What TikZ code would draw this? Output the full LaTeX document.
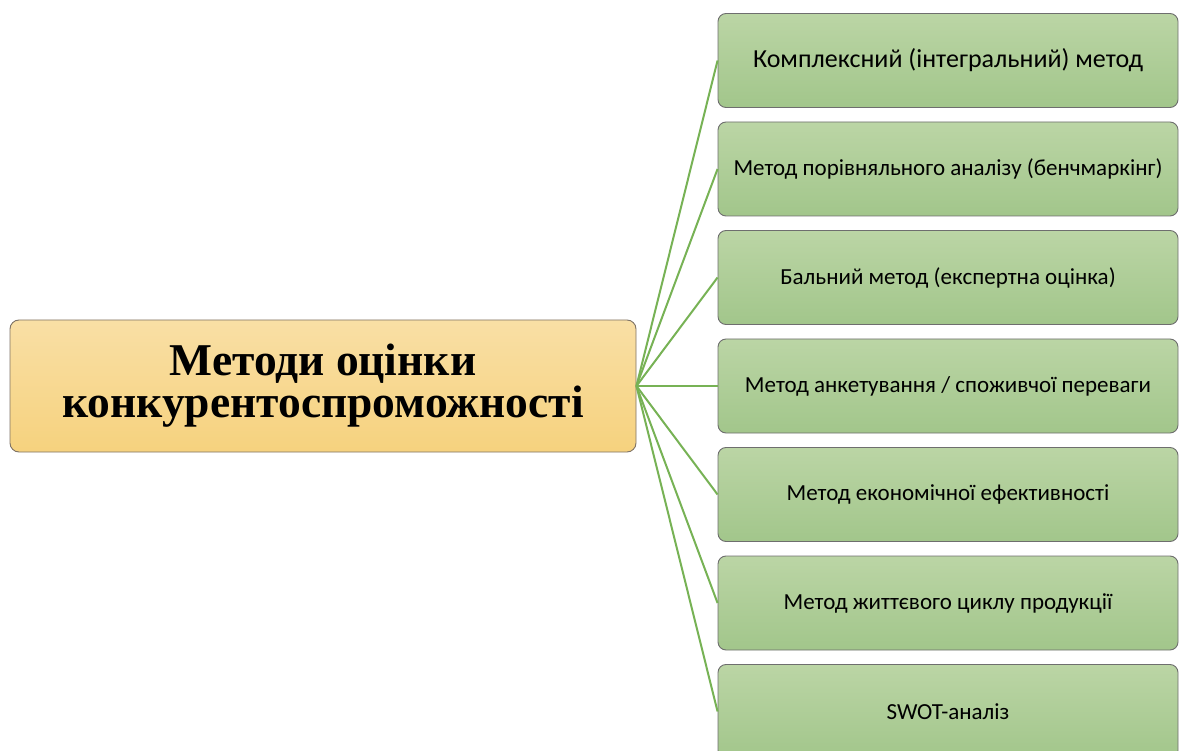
\documentclass[tikz,border=0pt]{standalone}
\usepackage{fontspec}
\setmainfont{Carlito}
\newfontfamily\titlefont{Liberation Serif}
\usepackage{tikz}
\usetikzlibrary{positioning}

\definecolor{mgreen}{HTML}{A2C68B}
\definecolor{lgreen}{HTML}{BBD5A5}
\definecolor{morange}{HTML}{F6D27E}
\definecolor{lorange}{HTML}{F9DFA5}
\definecolor{linkgreen}{HTML}{77B255}
\definecolor{edgegray}{HTML}{6E6E6E}

\tikzset{
  mainbox/.style={draw=edgegray!80!brown, line width=0.9pt, rounded corners=9pt,
    top color=lorange, bottom color=morange, minimum width=626pt, minimum height=132pt,
    align=center, text=black, font=\titlefont\bfseries\fontsize{45.5}{42}\selectfont},
  method/.style={draw=edgegray, line width=0.9pt, rounded corners=8pt,
    top color=lgreen, bottom color=mgreen, minimum width=460pt, minimum height=94pt,
    text=black, font=\fontsize{23}{27}\selectfont},
  link/.style={draw=linkgreen, line width=2pt}
}

\begin{document}
\begin{tikzpicture}[x=1pt, y=-1pt]
            \useasboundingbox (0,0) rectangle (1184,751);
            \clip (0,0) rectangle (1184,751);

            \draw (323,386) node[mainbox]              (ctr) {Методи оцінки\\конкурентоспроможності};

            \draw (948,60.5) node[method, font=\fontsize{26}{30}\selectfont] (m1) {Комплексний (інтегральний) метод};
            \draw (948,169) node[method]                  (m2) {Метод порівняльного аналізу (бенчмаркінг)};
            \draw (948,277.5) node[method]                (m3) {Бальний метод (експертна оцінка)};
            \draw (948,386) node[method]                  (m4) {Метод анкетування / споживчої переваги};
            \draw (948,494.5) node[method]                (m5) {Метод економічної ефективності};
            \draw (948,603) node[method]                  (m6) {Метод життєвого циклу продукції};
            \draw (948,711.5) node[method]                (m7) {SWOT-аналіз};

            \draw[link] (ctr.east) -- (m1.west);
            \draw[link] (ctr.east) -- (m2.west);
            \draw[link] (ctr.east) -- (m3.west);
            \draw[link] (ctr.east) -- (m4.west);
            \draw[link] (ctr.east) -- (m5.west);
            \draw[link] (ctr.east) -- (m6.west);
            \draw[link] (ctr.east) -- (m7.west);

\end{tikzpicture}
\end{document}
